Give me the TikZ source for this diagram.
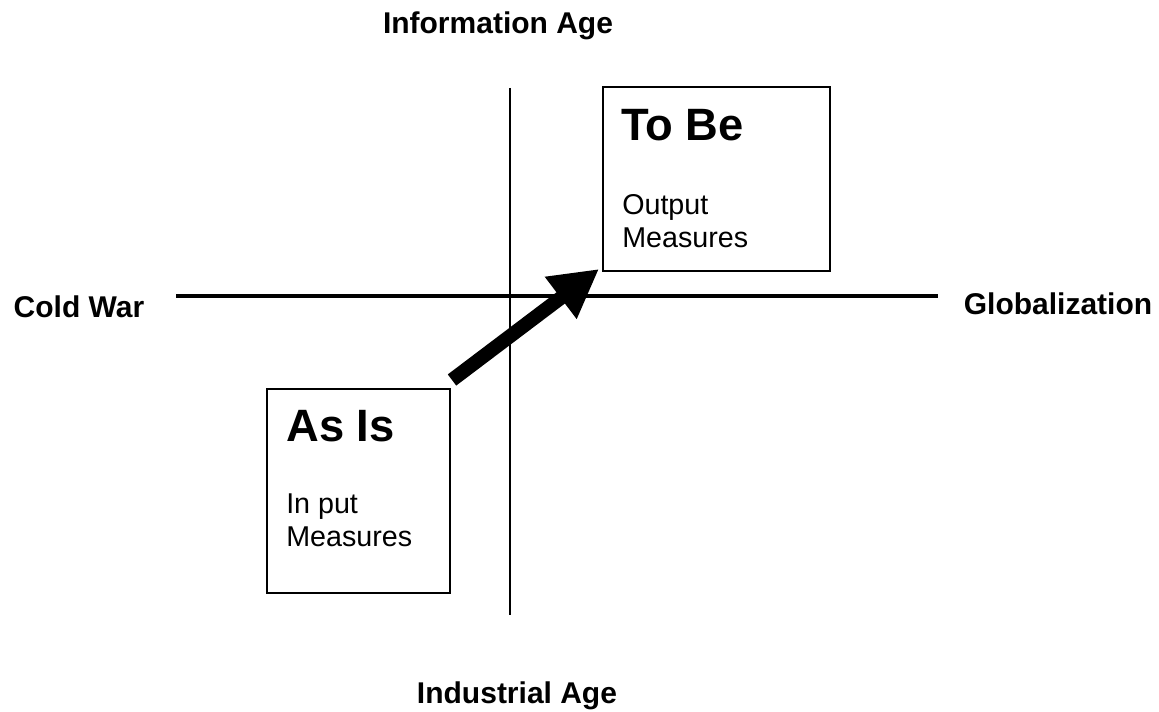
\documentclass[tikz,border=0pt]{standalone}
\usepackage{fontspec}
\setmainfont{Liberation Sans}
\usetikzlibrary{arrows.meta}
\tikzset{
	stage/.style={draw, line width=1.5pt, inner sep=0pt},
	axistext/.style={font=\fontsize{22.5}{27}\selectfont\bfseries, anchor=base, inner sep=0pt},
	title/.style={font=\fontsize{34}{40}\selectfont\bfseries, anchor=base west, inner sep=0pt},
	body/.style={font=\fontsize{21.5}{24.75}\selectfont, align=left, anchor=north west, inner sep=0pt},
}
\begin{document}
\begin{tikzpicture}[x=0.75pt, y=0.75pt]
	\useasboundingbox (0, 0) rectangle (1159, 711);
	\coordinate (top) at (510, 623);
	\coordinate (bottom) at (510, 96);
	\coordinate (left) at (176, 415);
	\coordinate (right) at (938, 415);
	\draw[line width=1.1pt] (top) -- (bottom);
	\draw[line width=3.4pt] (left) -- (right);
	\node[axistext] at (498, 677) (info) {Information Age};
	\node[axistext] at (517, 8) (industrial) {Industrial Age};
	\node[axistext] at (79, 393) (coldwar) {Cold War};
	\node[axistext] at (1058, 396) (global) {Globalization};
	\node[stage, minimum width=170.25pt, minimum height=138pt] at (716.5, 532) (tobe) {};
	\node[title] at ([shift={(19, -55)}]tobe.north west) (tobetitle) {To Be};
	\node[body] at ([shift={(20, -108)}]tobe.north west) (tobetext) {Output\\Measures};
	\node[stage, minimum width=137.25pt, minimum height=153pt] at (358.5, 220) (asis) {};
	\node[title] at ([shift={(20, -53)}]asis.north west) (asistitle) {As Is};
	\node[body] at ([shift={(20, -106)}]asis.north west) (asistext) {In put\\Measures};
	\draw[line width=10.5pt, -{Triangle[length=36pt, width=37pt]}] ([shift={(1, 8)}]asis.north east) -- ([shift={(-3, 3)}]tobe.south west);
\end{tikzpicture}
\end{document}
